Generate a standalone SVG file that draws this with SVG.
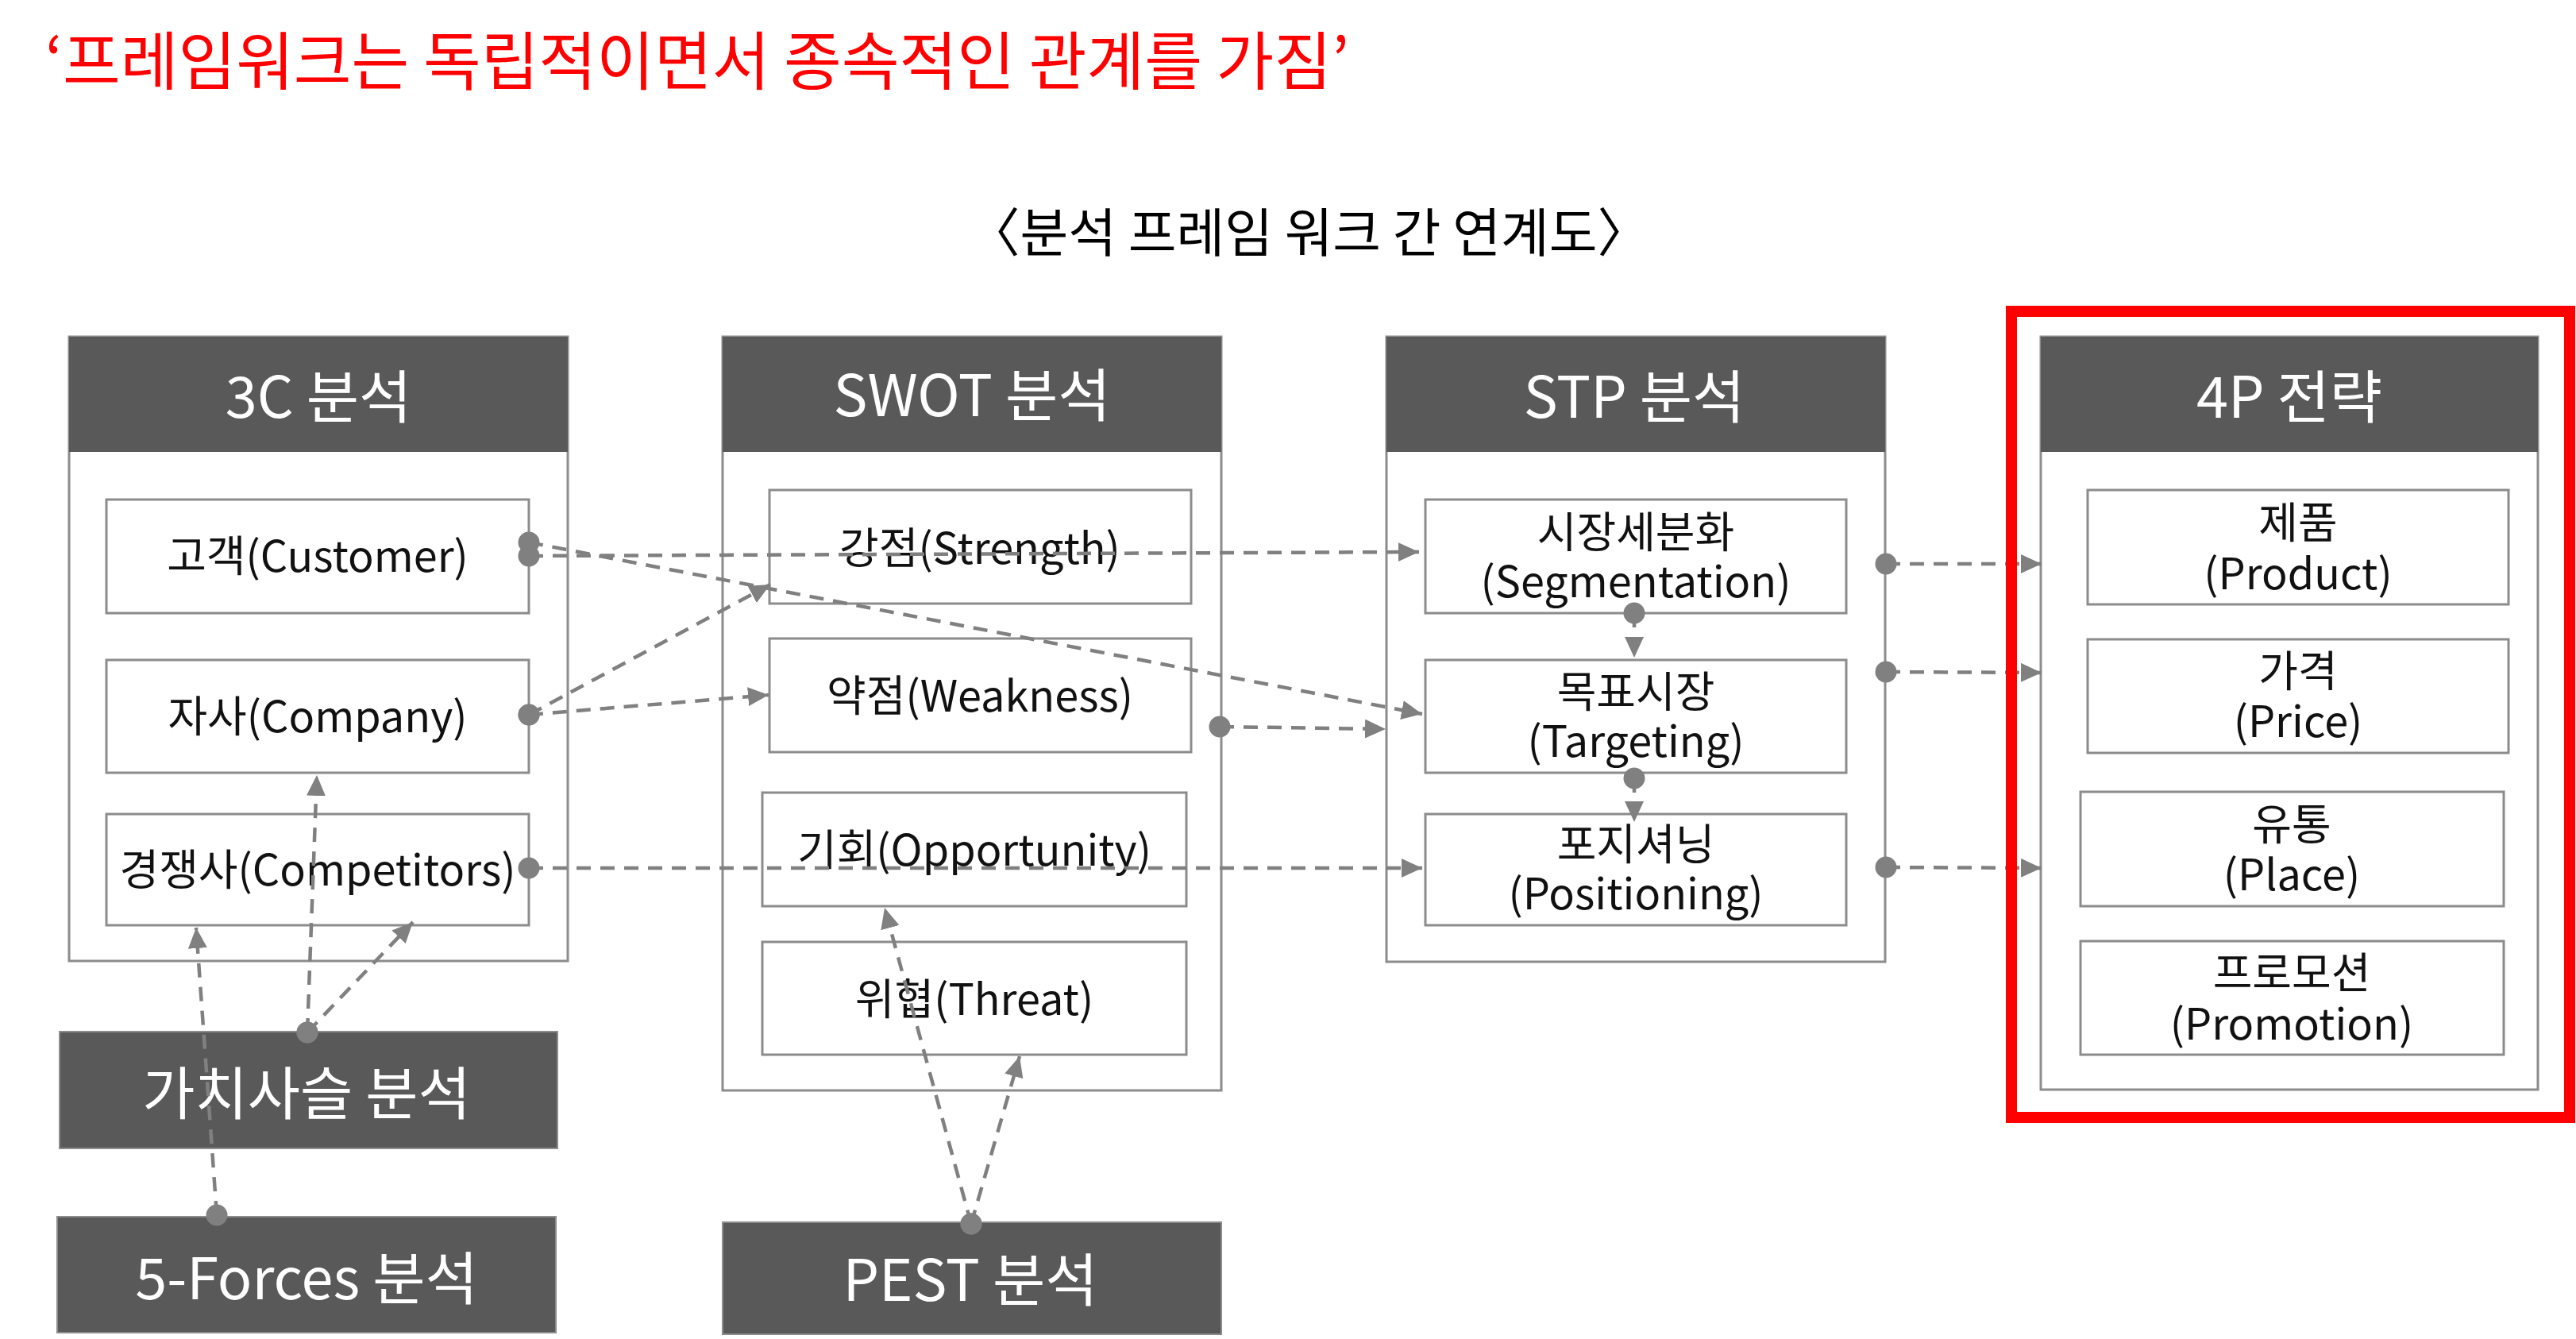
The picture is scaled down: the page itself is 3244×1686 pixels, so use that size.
<svg xmlns="http://www.w3.org/2000/svg" width="3244" height="1686" viewBox="0 0 3244 1686">
<style>
text{font-family:"Noto Sans CJK KR","Noto Sans",sans-serif;}
.sec{fill:#fff;stroke:#8c8c8c;stroke-width:3;}
.hdr{fill:#595959;}
.dark{fill:#595959;stroke:#8c8c8c;stroke-width:2;}
.box{fill:#fff;stroke:#8c8c8c;stroke-width:3;}
.ht{fill:#fff;font-size:72px;text-anchor:middle;}
.lt{fill:#111;font-size:54px;text-anchor:middle;}
.con{fill:none;stroke:#808080;stroke-width:4.5;stroke-dasharray:18 12;marker-start:url(#dot);marker-end:url(#arr);}
</style>
<defs>
<marker id="arr" markerUnits="userSpaceOnUse" markerWidth="28" markerHeight="26" refX="26" refY="12" orient="auto" viewBox="0 0 28 26">
<path d="M0,0 L26,12 L0,24 z" fill="#808080"/>
</marker>
<marker id="dot" markerUnits="userSpaceOnUse" markerWidth="30" markerHeight="30" refX="15" refY="15" viewBox="0 0 30 30">
<circle cx="15" cy="15" r="13.5" fill="#808080"/>
</marker>
</defs>
<rect width="3244" height="1686" fill="#fff"/>
<text x="57" y="106" font-size="80" fill="#ff0000" textLength="1642" lengthAdjust="spacingAndGlyphs">‘프레임워크는 독립적이면서 종속적인 관계를 가짐’</text>
<text x="1648" y="317" font-size="66" fill="#000" text-anchor="middle">〈분석 프레임 워크 간 연계도〉</text>

<g id="sec-3c">
<rect class="sec" x="87" y="424" width="628" height="786"/>
<rect class="hdr" x="87" y="424" width="628" height="145"/>
<text class="ht" x="401" y="526">3C 분석</text>
</g>
<g id="n-customer"><rect class="box" x="134" y="629" width="532" height="143"/><text class="lt" x="400" y="720">고객(Customer)</text></g>
<g id="n-company"><rect class="box" x="134" y="831" width="532" height="142"/><text class="lt" x="400" y="922">자사(Company)</text></g>
<g id="n-competitors"><rect class="box" x="134" y="1025" width="532" height="140"/><text class="lt" x="400" y="1115">경쟁사(Competitors)</text></g>

<g id="sec-swot">
<rect class="sec" x="910" y="424" width="628" height="949"/>
<rect class="hdr" x="910" y="424" width="628" height="145"/>
<text class="ht" x="1224" y="524">SWOT 분석</text>
</g>
<g id="n-strength"><rect class="box" x="969" y="617" width="531" height="143"/><text class="lt" x="1234" y="710">강점(Strength)</text></g>
<g id="n-weakness"><rect class="box" x="969" y="804" width="531" height="143"/><text class="lt" x="1234" y="896">약점(Weakness)</text></g>
<g id="n-opportunity"><rect class="box" x="960" y="998" width="534" height="143"/><text class="lt" x="1227" y="1090">기회(Opportunity)</text></g>
<g id="n-threat"><rect class="box" x="960" y="1186" width="534" height="142"/><text class="lt" x="1227" y="1278">위협(Threat)</text></g>

<g id="sec-stp">
<rect class="sec" x="1746" y="424" width="628" height="787"/>
<rect class="hdr" x="1746" y="424" width="628" height="145"/>
<text class="ht" x="2058" y="526">STP 분석</text>
</g>
<g id="n-segmentation"><rect class="box" x="1795" y="629" width="530" height="143"/><text class="lt" y="690"><tspan x="2060">시장세분화</tspan><tspan x="2060" dy="62">(Segmentation)</tspan></text></g>
<g id="n-targeting"><rect class="box" x="1795" y="831" width="530" height="142"/><text class="lt" y="891"><tspan x="2060">목표시장</tspan><tspan x="2060" dy="62">(Targeting)</tspan></text></g>
<g id="n-positioning"><rect class="box" x="1795" y="1025" width="530" height="140"/><text class="lt" y="1083"><tspan x="2060">포지셔닝</tspan><tspan x="2060" dy="62">(Positioning)</tspan></text></g>

<g id="sec-4p">
<rect class="sec" x="2570" y="424" width="626" height="948"/>
<rect class="hdr" x="2570" y="424" width="626" height="145"/>
<text class="ht" x="2883" y="526">4P 전략</text>
</g>
<g id="n-product"><rect class="box" x="2629" y="617" width="530" height="144"/><text class="lt" y="678"><tspan x="2894">제품</tspan><tspan x="2894" dy="64">(Product)</tspan></text></g>
<g id="n-price"><rect class="box" x="2629" y="805" width="530" height="143"/><text class="lt" y="865"><tspan x="2894">가격</tspan><tspan x="2894" dy="63">(Price)</tspan></text></g>
<g id="n-place"><rect class="box" x="2620" y="997" width="533" height="144"/><text class="lt" y="1058"><tspan x="2886">유통</tspan><tspan x="2886" dy="63">(Place)</tspan></text></g>
<g id="n-promotion"><rect class="box" x="2620" y="1185" width="533" height="143"/><text class="lt" y="1245"><tspan x="2886">프로모션</tspan><tspan x="2886" dy="64">(Promotion)</tspan></text></g>

<g id="n-valuechain"><rect class="dark" x="75" y="1299" width="627" height="147"/><text class="ht" x="386" y="1403">가치사슬 분석</text></g>
<g id="n-5forces"><rect class="dark" x="72" y="1532" width="628" height="146"/><text class="ht" x="386" y="1636">5-Forces 분석</text></g>
<g id="n-pest"><rect class="dark" x="910" y="1539" width="628" height="141"/><text class="ht" x="1222" y="1638">PEST 분석</text></g>

<g id="connectors">
<path class="con" d="M666,700 L1787,695"/>
<path class="con" d="M666,683 L1791,899"/>
<path class="con" d="M666,900 L970,736"/>
<path class="con" d="M666,900 L968,875"/>
<path class="con" d="M666,1093 L1791,1093"/>
<path class="con" d="M1536,915 L1745,918"/>
<path class="con" d="M2058,772 L2058,828"/>
<path class="con" d="M2058,980 L2058,1035"/>
<path class="con" d="M2375,710 L2571,710"/>
<path class="con" d="M2375,846 L2571,847"/>
<path class="con" d="M2375,1092 L2571,1093"/>
<path class="con" d="M387,1300 L399,976"/>
<path class="con" d="M387,1300 L520,1161"/>
<path class="con" d="M273,1530 L247,1168"/>
<path class="con" d="M1223,1541 L1114,1143"/>
<path class="con" d="M1223,1541 L1284,1330"/>
</g>

<rect id="highlight" x="2533" y="392" width="703" height="1015" fill="none" stroke="#ff0000" stroke-width="14"/>
</svg>
